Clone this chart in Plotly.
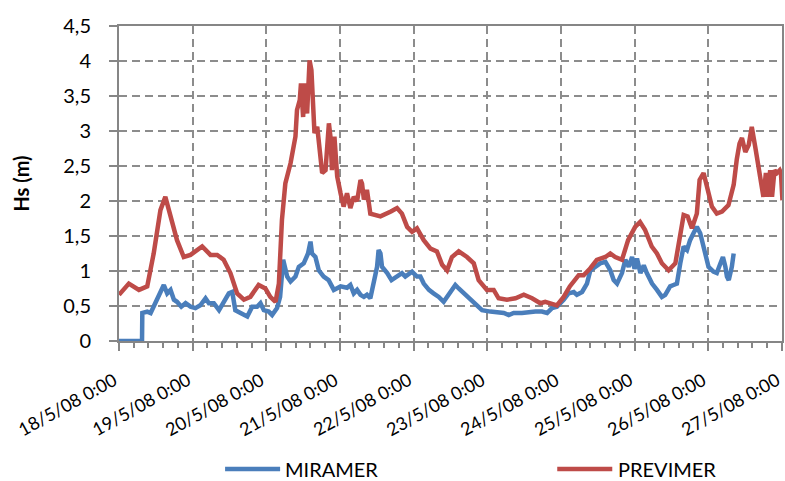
import pandas as pd
import plotly.graph_objects as go

# Time axis origin
START = pd.Timestamp("2008-05-18 00:00")

# MIRAMER observations: hours since 18/5/08 0:00 and Hs (m)
miramer_hours = [0, 7.5, 7.6, 9.2, 10.3, 11.9, 13.5, 14.6, 15.7, 16.8, 17.9, 18.9, 20.3, 21.7, 23.3,
                 24.9, 26.5, 28.2, 29.3, 30.9, 32.6, 34.1, 35.8, 36.9, 37.9, 39.6, 41.8, 43.4, 45.0,
                 46.1, 47.2, 48.8, 49.9, 51.5, 52.5, 53.5, 54.2, 54.8, 55.9, 57.5, 58.6, 60.2, 61.6,
                 62.4, 62.9, 64.0, 65.1, 66.7, 68.3, 69.4, 70.0, 72.2, 74.3, 75.4, 76.5, 77.6, 78.7,
                 79.8, 80.8, 81.9, 83.0, 84.1, 84.6, 85.2, 85.7, 87.4, 88.8, 90.6, 92.2, 93.3, 95.5,
                 97.1, 98.2, 99.3, 101.0, 102.5, 104.2, 105.8, 106.9, 108.5, 109.6, 110.7, 112.3,
                 114.5, 116.7, 118.3, 121.0, 123.7, 125.4, 127.0, 128.6, 131.3, 134.0, 135.7, 137.8,
                 139.5, 141.1, 142.7, 144.9, 146.5, 148.2, 149.2, 150.9, 152.5, 153.6, 155.2, 156.8,
                 158.5, 160.1, 161.2, 162.3, 163.9, 165.0, 166.1, 167.2, 168.0, 168.8, 169.9, 171.0,
                 172.0, 173.7, 175.3, 176.9, 178.0, 179.6, 180.7, 181.8, 182.9, 184.0, 185.1, 186.1,
                 187.2, 188.3, 189.4, 190.5, 192.1, 193.7, 194.8, 196.0, 196.8, 197.6, 198.1, 198.7,
                 199.7, 200.3]
miramer_hs = [0.0, 0.0, 0.40, 0.42, 0.40, 0.54, 0.70, 0.80, 0.68, 0.73, 0.59, 0.56, 0.49, 0.54, 0.49,
              0.47, 0.51, 0.61, 0.54, 0.54, 0.44, 0.54, 0.68, 0.70, 0.44, 0.40, 0.35, 0.49, 0.49,
              0.54, 0.44, 0.42, 0.37, 0.47, 0.63, 1.16, 1.06, 0.92, 0.85, 0.92, 1.06, 1.11, 1.25,
              1.42, 1.25, 1.20, 1.01, 0.92, 0.87, 0.78, 0.73, 0.78, 0.76, 0.80, 0.68, 0.73, 0.66,
              0.63, 0.66, 0.61, 0.82, 1.06, 1.30, 1.25, 1.06, 0.97, 0.87, 0.92, 0.97, 0.92, 0.99,
              0.92, 0.92, 0.82, 0.73, 0.68, 0.63, 0.56, 0.63, 0.73, 0.80, 0.75, 0.68,
              0.59, 0.49, 0.44, 0.42, 0.40, 0.40, 0.37, 0.40, 0.40, 0.42, 0.42, 0.42,
              0.40, 0.47, 0.49, 0.59, 0.68, 0.70, 0.66, 0.70, 0.82, 1.01, 1.06, 1.11,
              1.13, 1.01, 0.87, 0.82, 0.97, 1.16, 1.06, 1.20, 1.03, 1.18, 0.97, 1.08,
              0.97, 0.82, 0.73, 0.63, 0.66, 0.78, 0.80, 0.82, 1.11, 1.35, 1.30, 1.44,
              1.54, 1.63, 1.54, 1.35, 1.06, 0.99, 0.97, 1.11, 1.20, 1.06, 0.92, 0.87,
              1.06, 1.25]

# PREVIMER forecast: hours since 18/5/08 0:00 and Hs (m)
previmer_hours = [0, 3.2, 6.5, 9.2, 11.3, 13.5, 15.1, 16.8, 18.9, 21.1, 23.3, 27.1, 29.8, 32.0, 34.1,
                  36.3, 38.5, 40.7, 42.8, 45.5, 47.7, 49.3, 51.0, 52.1, 53.1, 54.2, 55.9, 57.5, 58.0,
                  58.9, 59.3, 60.0, 60.5, 61.3, 62.1, 62.7, 63.7, 64.6, 65.4, 66.2, 67.3, 68.4, 68.9,
                  69.4, 70.2, 71.1, 72.2, 73.2, 74.3, 75.4, 76.5, 77.6, 78.7, 79.2, 79.8, 80.8, 81.9,
                  85.2, 88.6, 90.6, 92.2, 93.9, 95.5, 97.1, 99.3, 101.5, 103.6, 105.3, 106.9, 108.5,
                  110.7, 113.4, 115.6, 117.2, 119.9, 122.1, 123.7, 126.4, 129.2, 131.9, 134.6, 137.3,
                  138.9, 140.5, 142.7, 144.9, 146.9, 149.8, 151.4, 153.6, 155.7, 158.5, 160.1, 161.7,
                  163.9, 165.9, 168.2, 169.8, 171.4, 173.6, 175.3, 176.9, 179.1, 181.3, 182.9, 184.0,
                  185.3, 186.7, 188.3, 189.2, 190.5, 191.6, 193.2, 194.8, 196.5, 198.6, 200.3, 201.3,
                  202.2, 203.0, 204.1, 205.2, 206.2, 207.3, 208.4, 209.2, 210.0, 210.8, 211.3, 212.2,
                  212.8, 213.6, 214.4, 215.3, 215.7, 216.2]
previmer_hs = [0.66, 0.82, 0.73, 0.78, 1.25, 1.87, 2.06, 1.78, 1.44, 1.20, 1.23, 1.35, 1.23, 1.23, 1.16,
               0.97, 0.68, 0.59, 0.63, 0.80, 0.75, 0.63, 0.56, 0.82, 1.73, 2.25, 2.54, 2.92, 3.30,
               3.44, 3.68, 3.20, 3.68, 3.25, 4.01, 3.87, 2.97, 3.06, 2.68, 2.40, 2.44, 3.11, 2.92,
               2.44, 2.92, 2.35, 2.11, 1.92, 2.11, 1.90, 2.06, 2.00, 2.30, 2.25, 2.02, 2.16, 1.82, 1.78,
               1.85, 1.90, 1.82, 1.63, 1.56, 1.61, 1.44, 1.32, 1.28, 1.09, 1.01, 1.20, 1.28,
               1.20, 1.11, 0.87, 0.73, 0.73, 0.61, 0.59, 0.61, 0.66, 0.61, 0.54, 0.56,
               0.54, 0.51, 0.63, 0.78, 0.94, 0.94, 1.04, 1.16, 1.20, 1.25, 1.20, 1.16,
               1.44, 1.63, 1.70, 1.59, 1.35, 1.25, 1.11, 1.01, 1.11, 1.49, 1.80, 1.78,
               1.61, 1.82, 2.30, 2.40, 2.20, 1.92, 1.82, 1.85, 1.94, 2.23, 2.59, 2.82,
               2.90, 2.70, 2.80, 3.06, 2.78, 2.49, 2.20, 2.06, 2.40, 2.06, 2.44, 2.06,
               2.44, 2.40, 2.44, 2.40, 2.01, 1.94]

# Daily tick positions and their labels
tick_days = list(range(10))
tick_labels = ["18/5/08 0:00", "19/5/08 0:00", "20/5/08 0:00", "21/5/08 0:00", "22/5/08 0:00",
               "23/5/08 0:00", "24/5/08 0:00", "25/5/08 0:00", "26/5/08 0:00", "27/5/08 0:00"]

series_names = ["MIRAMER", "PREVIMER"]
series_colors = ["#4a7ebb", "#be4b48"]


def to_dates(hours):
    return START + pd.to_timedelta(hours, unit="h")


tick_vals = [START + pd.Timedelta(days=d) for d in tick_days]
# a couple of minutes of slack so the final day tick stays inside the range
x_range = [tick_vals[0], tick_vals[-1] + pd.Timedelta(minutes=3)]

AXIS_GREY = "#868686"
GRID_GREY = "#8c8c8c"
FONT = "Lato, Carlito, 'Liberation Sans', sans-serif"

fig = go.Figure()
fig.add_trace(go.Scatter(x=to_dates(miramer_hours), y=miramer_hs, mode="lines", name=series_names[0],
                         line=dict(color=series_colors[0], width=4.5)))
fig.add_trace(go.Scatter(x=to_dates(previmer_hours), y=previmer_hs, mode="lines", name=series_names[1],
                         line=dict(color=series_colors[1], width=4.5)))

# Slanted day labels, right-aligned to their tick so the last one stays on the page
for tv, lab in zip(tick_vals, tick_labels):
    fig.add_annotation(xref="x", yref="paper", x=tv, y=0, text=lab, textangle=-29,
                       showarrow=False, xanchor="right", yanchor="top",
                       xshift=3, yshift=-26, borderpad=0,
                       font=dict(size=18, color="black"))

# Bottom legend: long line swatches followed by the series name
legend_x = [0.16, 0.661]
for name, color, lx in zip(series_names, series_colors, legend_x):
    fig.add_shape(type="line", xref="paper", yref="paper", x0=lx, x1=lx + 0.083, y0=-0.406, y1=-0.406,
                  line=dict(color=color, width=4.5))
    fig.add_annotation(xref="paper", yref="paper", x=lx + 0.088, y=-0.406, text=name,
                       showarrow=False, xanchor="left", yanchor="middle",
                       font=dict(size=20, color="black"))

fig.update_layout(
    width=785, height=481,
    margin=dict(l=119, r=3, t=26, b=140),
    paper_bgcolor="white", plot_bgcolor="white",
    separators=",.",
    font=dict(family=FONT, color="black"),
    showlegend=False,
)

fig.update_xaxes(
    type="date", automargin=False,
    range=x_range,
    tickvals=tick_vals, showticklabels=False,
    showgrid=True, gridcolor=GRID_GREY, griddash="8px,5px", gridwidth=2,
    showline=True, linecolor=AXIS_GREY, linewidth=2, mirror=True,
    ticks="outside", ticklen=8, tickcolor=AXIS_GREY, tickwidth=2,
    minor=dict(dtick=86400000 / 5, tick0=tick_vals[0], ticks="outside", ticklen=5,
               tickcolor=AXIS_GREY, tickwidth=1.5, showgrid=False),
)
fig.update_yaxes(
    automargin=False,
    range=[0, 4.5], dtick=0.5, tick0=0,
    tickfont=dict(size=20), ticklabelstandoff=14,
    title=dict(text="<b>Hs (m)</b>", font=dict(size=20), standoff=28),
    showgrid=True, gridcolor=GRID_GREY, griddash="8px,5px", gridwidth=2,
    zeroline=False,
    showline=True, linecolor=AXIS_GREY, linewidth=2, mirror=True,
    ticks="outside", ticklen=8, tickcolor=AXIS_GREY, tickwidth=2,
)

fig.write_html("out.html")
